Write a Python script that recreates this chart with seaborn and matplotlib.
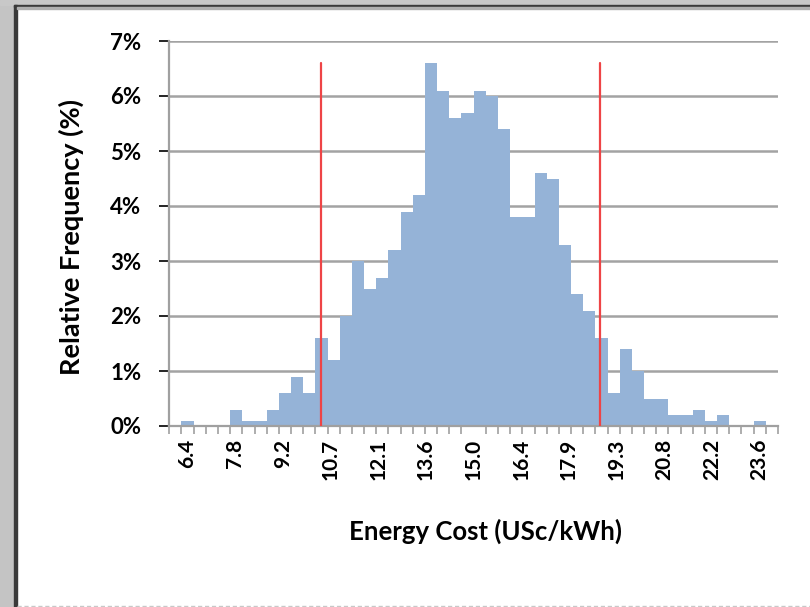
import matplotlib
matplotlib.use('Agg')
import matplotlib.pyplot as plt
from matplotlib.patches import Rectangle
from matplotlib.lines import Line2D
import seaborn as sns

# relative frequency (%) per cost bin
freq = [0.0, 0.1, 0.0, 0.0, 0.0, 0.3, 0.1, 0.1, 0.3, 0.6,
        0.9, 0.6, 1.6, 1.2, 2.0, 3.0, 2.5, 2.7, 3.2, 3.9,
        4.2, 6.6, 6.1, 5.6, 5.7, 6.1, 6.0, 5.4, 3.8, 3.8,
        4.6, 4.5, 3.3, 2.4, 2.1, 1.6, 0.6, 1.4, 1.0, 0.5,
        0.5, 0.2, 0.2, 0.3, 0.1, 0.2, 0.0, 0.0, 0.1, 0.0]
bins = list(range(len(freq)))
tick_labels = ['6.4', '7.8', '9.2', '10.7', '12.1', '13.6', '15.0',
               '16.4', '17.9', '19.3', '20.8', '22.2', '23.6']
first_cost, last_cost = 6.4, 23.6      # centre of bin 1 and bin 48
bound_lines = [10.4, 18.8]             # red markers (USc/kWh)

def cost_to_pos(c):
    return 1 + (c - first_cost) / (last_cost - first_cost) * 47

sns.set_theme(style='white')
plt.rcParams['font.family'] = ['Lato', 'DejaVu Sans']

fig = plt.figure(figsize=(8.1, 6.07), dpi=100)
ax = fig.add_axes([169.3 / 810, 1 - 426 / 607, 608.7 / 810, 385 / 607])

sns.barplot(x=bins, y=freq, color='#95b3d7', saturation=1, width=1,
            edgecolor='none', linewidth=0, ax=ax, zorder=2)

for c in bound_lines:
    p = cost_to_pos(c)
    ax.plot([p, p], [0, max(freq)], color='#ee4446', lw=1.6, zorder=3)

ax.set_xlim(-0.5, len(freq) - 0.5)
ax.set_ylim(0, 7)
ax.set_yticks(range(0, 8))
ax.set_yticklabels([f'{v}%' for v in range(0, 8)], fontsize=16, fontweight='bold')
for v in range(1, 8):
    ax.axhline(v, color='#a3a3a3', lw=1.8, zorder=1)

n_lab = len(tick_labels)
ax.set_xticks([1 + k * 47 / (n_lab - 1) for k in range(n_lab)])
ax.set_xticks([-0.5 + k for k in range(len(freq) + 1)], minor=True)
ax.set_xticklabels(tick_labels, rotation=90, fontsize=15, fontweight='bold')
ax.tick_params(axis='x', which='major', length=0, pad=9)
ax.tick_params(axis='x', which='minor', length=6, width=1.2, color='#a0a0a0',
               direction='out', bottom=True)
ax.tick_params(axis='y', which='major', length=7, width=1.2, color='#a0a0a0',
               direction='out', left=True, pad=13)

for s in ['top', 'right']:
    ax.spines[s].set_visible(False)
for s in ['left', 'bottom']:
    ax.spines[s].set_color('#a0a0a0')
    ax.spines[s].set_linewidth(1.6)

ax.set_xlabel('Energy Cost (USc/kWh)', fontsize=18.5, fontweight='bold')
ax.set_ylabel('Relative Frequency (%)', fontsize=19.5, fontweight='bold')
ax.xaxis.set_label_coords(0.52, -0.24)
ax.yaxis.set_label_coords(-0.14, 0.49)
ax.xaxis.label.set_color('black')
ax.yaxis.label.set_color('black')
ax.tick_params(colors='black', which='major')
ax.tick_params(axis='x', which='minor', color='#a0a0a0')

# slide frame around the chart
fig.patches.append(Rectangle((0, 0), 14 / 810, 1, transform=fig.transFigure,
                             color='#c4c4c4', zorder=0))
fig.patches.append(Rectangle((0, 1 - 5 / 607), 1, 5 / 607, transform=fig.transFigure,
                             color='#c8c8c8', zorder=0))
fig.patches.append(Rectangle((14 / 810, 0), 3 / 810, 1 - 5 / 607,
                             transform=fig.transFigure, color='#3a3a3a', zorder=1))
fig.patches.append(Rectangle((14 / 810, 1 - 7 / 607), 1, 2 / 607,
                             transform=fig.transFigure, color='#3a3a3a', zorder=1))
fig.patches.append(Rectangle((17 / 810, 1 - 9 / 607), 1, 2 / 607,
                             transform=fig.transFigure, color='#b0b0b0', zorder=1))
fig.lines.append(Line2D([17 / 810, 1], [1.5 / 607, 1.5 / 607], transform=fig.transFigure,
                        color='#c8c8c8', lw=1, linestyle=(0, (3, 2))))

fig.savefig('out.png', dpi=100)
